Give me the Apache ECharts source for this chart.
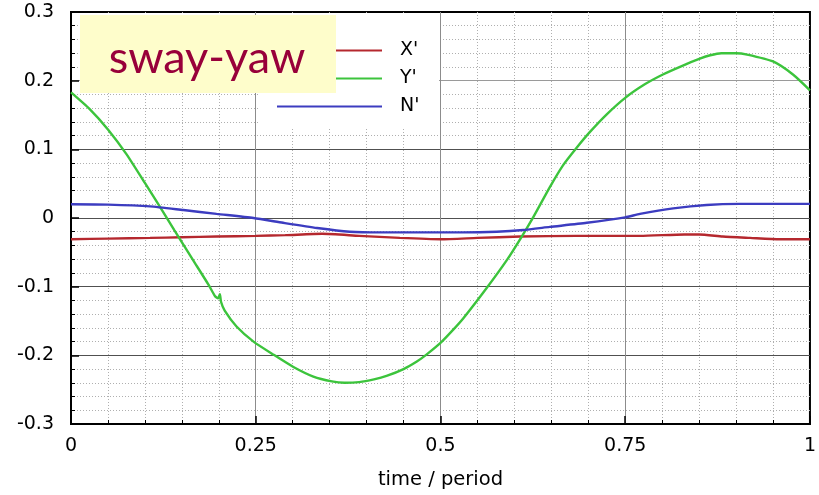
<!DOCTYPE html>
<html>
<head>
<meta charset="utf-8">
<script src="https://cdn.jsdelivr.net/npm/echarts@6/dist/echarts.min.js"></script>
<style>
  html, body { margin: 0; padding: 0; background: #ffffff; }
  #chart { width: 819px; height: 495px; }
</style>
</head>
<body>
<div id="chart"></div>
<script>
// ---- data ----
var seriesNames = ["X'", "Y'", "N'"];
var xTicks = [0, 0.25, 0.5, 0.75, 1];
var yTicks = [-0.3, -0.2, -0.1, 0, 0.1, 0.2, 0.3];

// Y' (green)
var tY = [0, 0.025, 0.05, 0.075, 0.1, 0.12, 0.14, 0.165, 0.186, 0.195, 0.199, 0.2015, 0.203, 0.208,
          0.224, 0.247, 0.274, 0.301, 0.328, 0.353, 0.37, 0.39, 0.41, 0.427, 0.45, 0.468, 0.481,
          0.5, 0.517, 0.531, 0.5625, 0.59, 0.61, 0.626, 0.648, 0.666, 0.684, 0.702, 0.725, 0.75,
          0.777, 0.801, 0.828, 0.851, 0.865, 0.88, 0.9, 0.915, 0.95, 0.977, 1.0];
var vY = [0.183, 0.159, 0.129, 0.093, 0.051, 0.017, -0.018, -0.061, -0.097, -0.114, -0.117, -0.111, -0.122, -0.135,
          -0.158, -0.180, -0.199, -0.217, -0.231, -0.238, -0.240, -0.239, -0.235, -0.230, -0.220, -0.209, -0.199,
          -0.182, -0.163, -0.146, -0.102, -0.061, -0.027, 0.002, 0.045, 0.077, 0.102, 0.125, 0.151, 0.175,
          0.195, 0.209, 0.222, 0.232, 0.237, 0.240, 0.240, 0.238, 0.228, 0.209, 0.186];

// N' (blue)
var tN = [0, 0.05, 0.107, 0.152, 0.197, 0.247, 0.287, 0.333, 0.377, 0.42, 0.5, 0.53, 0.576, 0.612,
          0.648, 0.698, 0.75, 0.77, 0.815, 0.86, 0.905, 1.0];
var vN = [0.020, 0.0195, 0.017, 0.0116, 0.006, 0.0, -0.007, -0.0146, -0.020, -0.021, -0.021, -0.021, -0.020, -0.0175,
          -0.013, -0.007, 0.001, 0.006, 0.014, 0.019, 0.0205, 0.0205];

// X' (red)
var tX = [0, 0.05, 0.107, 0.15, 0.197, 0.25, 0.29, 0.34, 0.39, 0.445, 0.5, 0.55, 0.608, 0.684,
          0.77, 0.83, 0.85, 0.882, 0.919, 0.959, 1.0];
var vX = [-0.031, -0.030, -0.029, -0.028, -0.027, -0.026, -0.025, -0.023, -0.026, -0.029, -0.031, -0.029, -0.027, -0.026,
          -0.026, -0.024, -0.024, -0.027, -0.029, -0.031, -0.031];

var xAxisTitle = 'time / period';
var annotationText = 'sway-yaw';

function pairs(t, v) { return t.map(function (x, i) { return [x, v[i]]; }); }

var FONT = 'DejaVu Sans';
var chart = echarts.init(document.getElementById('chart'), null, { renderer: 'canvas' });

var option = {
  backgroundColor: '#ffffff',
  animation: false,
  grid: {
    left: 71, right: 9, top: 12, bottom: 71,
    show: true, borderColor: '#000000', borderWidth: 2, backgroundColor: 'transparent'
  },
  xAxis: {
    type: 'value', min: xTicks[0], max: xTicks[xTicks.length - 1], interval: 0.25,
    name: xAxisTitle, nameLocation: 'middle', nameGap: 46,
    nameTextStyle: { fontFamily: FONT, fontSize: 19.5, color: '#000' },
    axisLine: { show: true, onZero: false, lineStyle: { color: '#000', width: 2 } },
    axisTick: { show: true, inside: true, length: 8, lineStyle: { color: '#000', width: 1.5 } },
    minorTick: { show: true, splitNumber: 5, length: 4, lineStyle: { color: '#000', width: 1 } },
    axisLabel: { fontFamily: FONT, fontSize: 19, color: '#000', margin: 13 },
    splitLine: { show: true, showMinLine: false, showMaxLine: false, lineStyle: { color: '#8c8c8c', width: 1 } },
    minorSplitLine: { show: true, lineStyle: { color: '#afafaf', width: 1, type: [1, 2] } }
  },
  yAxis: {
    type: 'value', min: yTicks[0], max: yTicks[yTicks.length - 1], interval: 0.1,
    axisLine: { show: true, onZero: false, lineStyle: { color: '#000', width: 2 } },
    axisTick: { show: true, inside: true, length: 8, lineStyle: { color: '#000', width: 1.5 } },
    minorTick: { show: true, splitNumber: 5, length: 4, lineStyle: { color: '#000', width: 1 } },
    axisLabel: { fontFamily: FONT, fontSize: 19, color: '#000', margin: 17 },
    splitLine: { show: true, showMinLine: false, showMaxLine: false,
      lineStyle: { color: ['#505050', '#505050', '#505050', '#505050', '#9a9a9a', '#9a9a9a', '#9a9a9a'], width: 1 } },
    minorSplitLine: { show: true, lineStyle: { color: '#afafaf', width: 1, type: [1, 2] } }
  },
  legend: {
    data: seriesNames,
    orient: 'vertical', left: 277, top: 41, padding: 0,
    itemWidth: 105, itemHeight: 2, itemGap: 9, icon: 'rect',
    selectedMode: false,
    textStyle: { fontFamily: FONT, fontSize: 19, color: '#000', padding: [0, 0, 0, 13] }
  },
  graphic: [
    { type: 'rect', z: 1, shape: { x: 258, y: 13, width: 181, height: 116 }, style: { fill: '#ffffff' }, silent: true },
    { type: 'rect', z: 10, shape: { x: 80, y: 15, width: 256, height: 78 }, style: { fill: '#fefdcb' }, silent: true },
    { type: 'text', z: 11, x: 207, y: 58,
      style: { text: annotationText, fill: '#98003a', font: '45px Lato', align: 'center', verticalAlign: 'middle' } }
  ],
  series: [
    { name: seriesNames[0], type: 'line', data: pairs(tX, vX), showSymbol: false, z: 3,
      smooth: 0.2,
      lineStyle: { color: '#b5282e', width: 2.4 }, itemStyle: { color: '#b5282e' } },
    { name: seriesNames[1], type: 'line', data: pairs(tY, vY), showSymbol: false, z: 3,
      smooth: 0.2,
      lineStyle: { color: '#3cc43c', width: 2.4 }, itemStyle: { color: '#3cc43c' } },
    { name: seriesNames[2], type: 'line', data: pairs(tN, vN), showSymbol: false, z: 3,
      smooth: 0.2,
      lineStyle: { color: '#3c3cc0', width: 2.4 }, itemStyle: { color: '#3c3cc0' } }
  ]
};
chart.setOption(option);
</script>
</body>
</html>
